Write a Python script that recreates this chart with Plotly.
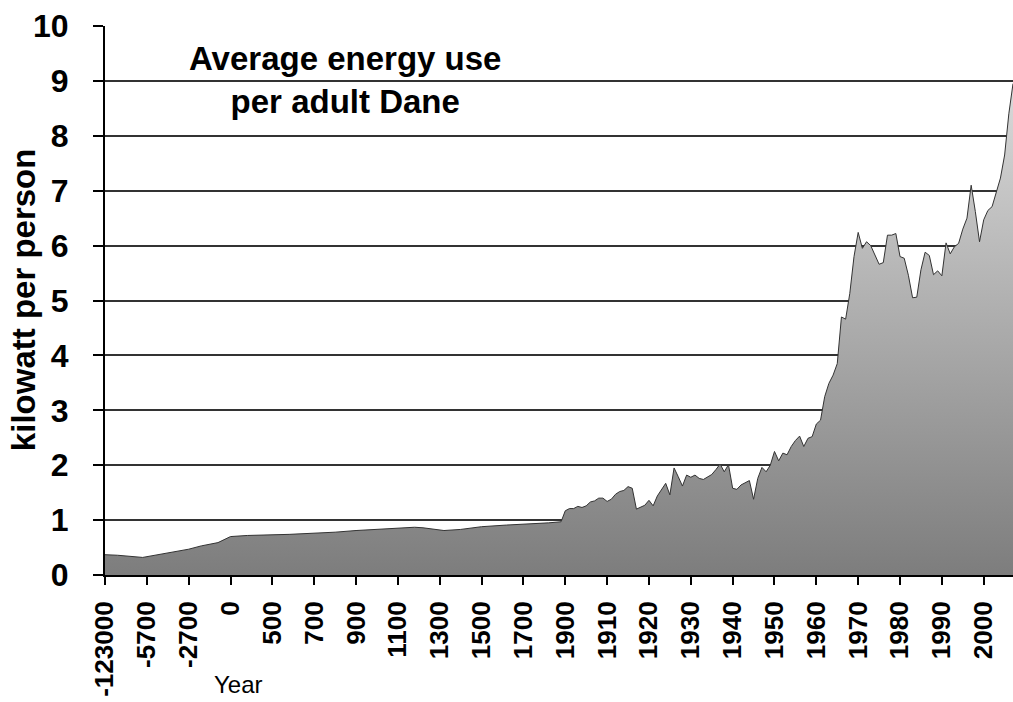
import plotly.graph_objects as go

# ---------------- data ----------------
# x-axis category labels (one label every 10 categories)
tick_labels = ["-123000", "-5700", "-2700", "0", "500", "700", "900", "1100",
               "1300", "1500", "1700", "1900", "1910", "1920", "1930", "1940",
               "1950", "1960", "1970", "1980", "1990", "2000"]
categories_per_label = 10

# pre-1900 part of the series: category index (0 = -123000 ... 109) and value
pre1900_category = [0, 3, 9, 16, 20, 23, 27, 30, 34, 44, 51, 55, 60, 64, 70,
                    74, 76, 81, 85, 90, 96, 103, 106, 109]
pre1900_kw = [0.37, 0.36, 0.32, 0.41, 0.47, 0.53, 0.59, 0.70, 0.72, 0.74, 0.76,
              0.78, 0.81, 0.83, 0.85, 0.87, 0.86, 0.81, 0.83, 0.88, 0.91, 0.93,
              0.95, 0.97]

# yearly part of the series, 1900 - 2007
years = list(range(1900, 2008))
yearly_kw = [
    1.17, 1.21, 1.21, 1.25, 1.23, 1.26, 1.33, 1.35, 1.40, 1.40,   # 1900s
    1.34, 1.38, 1.47, 1.52, 1.54, 1.61, 1.58, 1.20, 1.23, 1.27,   # 1910s
    1.36, 1.26, 1.44, 1.56, 1.67, 1.46, 1.95, 1.79, 1.62, 1.82,   # 1920s
    1.78, 1.82, 1.76, 1.74, 1.79, 1.83, 1.92, 2.02, 1.88, 2.01,   # 1930s
    1.58, 1.56, 1.64, 1.68, 1.72, 1.38, 1.76, 1.96, 1.88, 2.00,   # 1940s
    2.25, 2.08, 2.22, 2.19, 2.34, 2.45, 2.53, 2.34, 2.49, 2.52,   # 1950s
    2.75, 2.82, 3.25, 3.49, 3.64, 3.85, 4.70, 4.66, 5.13, 5.80,   # 1960s
    6.24, 5.95, 6.07, 6.00, 5.83, 5.66, 5.69, 6.19, 6.19, 6.22,   # 1970s
    5.80, 5.77, 5.46, 5.05, 5.06, 5.56, 5.88, 5.82, 5.47, 5.54,   # 1980s
    5.45, 6.05, 5.85, 5.98, 6.04, 6.30, 6.50, 7.10, 6.62, 6.07,   # 1990s
    6.47, 6.64, 6.71, 6.95, 7.23, 7.65, 8.40, 8.95,               # 2000s
]

first_year_category = 110  # category index of 1900

x_vals = pre1900_category + [first_year_category + (y - 1900) for y in years]
y_vals = pre1900_kw + yearly_kw

tickvals = [i * categories_per_label for i in range(len(tick_labels))]

FONT = "Liberation Sans, Arial, Helvetica, sans-serif"

fig = go.Figure()
fig.add_trace(go.Scatter(
    x=x_vals, y=y_vals,
    mode="lines",
    fill="tozeroy",
    fillgradient=dict(type="vertical",
                      colorscale=[[0, "#7d7d7d"], [1, "#dadada"]],
                      start=0, stop=9),
    line=dict(color="#333333", width=1),
    showlegend=False,
    hoverinfo="skip",
))

fig.update_layout(
    width=1013, height=702,
    margin=dict(l=105, r=0, t=26, b=127, autoexpand=False),
    paper_bgcolor="white", plot_bgcolor="white",
    font=dict(family=FONT, color="black"),
    xaxis=dict(
        range=[0, x_vals[-1]],
        tickmode="array", tickvals=tickvals, ticktext=tick_labels,
        tickangle=-90,
        tickfont=dict(size=26, family=FONT, color="black", weight="bold"),
        ticks="outside", ticklen=8, tickwidth=2, tickcolor="black",
        ticklabelstandoff=6,
        showline=True, linecolor="black", linewidth=2,
        showgrid=False, zeroline=False,
    ),
    yaxis=dict(
        range=[0, 10],
        tickmode="array", tickvals=list(range(0, 11)),
        tickfont=dict(size=32, family=FONT, color="black", weight="bold"),
        ticks="outside", ticklen=10, tickwidth=2, tickcolor="black",
        ticklabelstandoff=18,
        showline=True, linecolor="black", linewidth=2,
        showgrid=True, gridcolor="#333333", gridwidth=1.5,
        zeroline=False,
    ),
    annotations=[
        dict(text="Average energy use<br>per adult Dane",
             xref="paper", yref="paper", x=0.2643, y=0.902,
             xanchor="center", yanchor="middle", showarrow=False,
             font=dict(size=33, family=FONT, color="black", weight="bold")),
        dict(text="kilowatt per person",
             xref="paper", yref="paper", x=-0.089, y=0.501,
             xanchor="center", yanchor="middle", textangle=-90,
             showarrow=False,
             font=dict(size=33, family=FONT, color="black", weight="bold")),
        dict(text="Year",
             xref="paper", yref="paper", x=0.1465, y=-0.1986,
             xanchor="center", yanchor="middle", showarrow=False,
             font=dict(size=24, family=FONT, color="black")),
    ],
)

# remove the default page margin so the figure fills the window exactly
fig.write_html(
    "out.html",
    config={"displayModeBar": False},
    post_script="document.body.style.margin='0';"
                "document.body.style.overflow='hidden';",
)
